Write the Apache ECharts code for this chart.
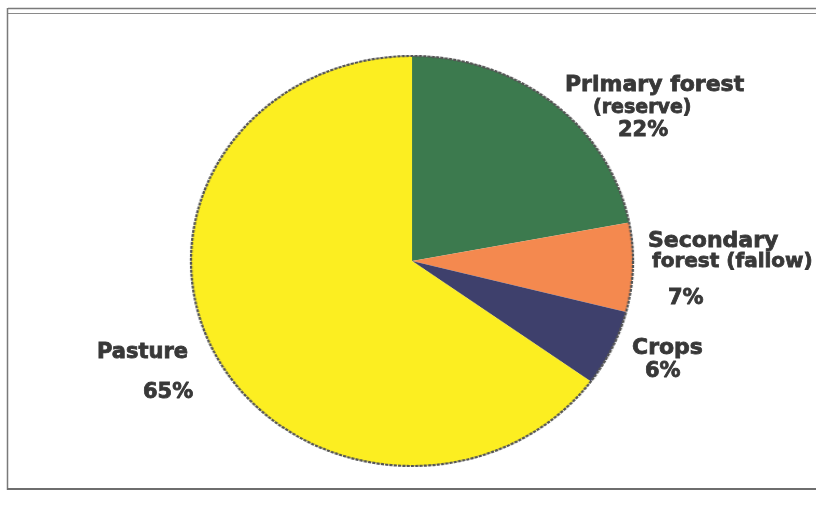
<!DOCTYPE html>
<html>
<head>
<meta charset="utf-8">
<title>Land use</title>
<script src="https://cdn.jsdelivr.net/npm/echarts@6/dist/echarts.min.js"></script>
<style>
  html, body { margin: 0; padding: 0; background: #ffffff; }
  #wrap { position: relative; width: 816px; height: 520px; overflow: hidden; }
  #pie, #labels { position: absolute; left: 0; top: 0; width: 816px; height: 520px; }
  /* the pie is drawn slightly wider than tall */
  #pie { transform: scaleX(1.078); transform-origin: 412px 261px; }
</style>
</head>
<body>
<div id="wrap">
  <div id="pie"></div>
  <div id="labels"></div>
</div>
<script>
// Land-use shares (%)
const categories = ['Primary forest (reserve)', 'Secondary forest (fallow)', 'Crops', 'Pasture'];
const shares = [22, 7, 6, 65];
const colors = ['#3c7a4e', '#f4894f', '#3e406c', '#fcee21'];
// how each category name is split over lines in its label
const nameLines = [
  ['Primary forest', '(reserve)'],
  ['Secondary', 'forest (fallow)'],
  ['Crops'],
  ['Pasture']
];

const CX = 412, CY = 261, R = 205;

const pieChart = echarts.init(document.getElementById('pie'), null, { renderer: 'canvas' });
pieChart.setOption({
  animation: false,
  backgroundColor: 'transparent',
  series: [{
    type: 'pie',
    center: [CX, CY],
    radius: [0, R],
    startAngle: 90,
    clockwise: true,
    label: { show: false },
    labelLine: { show: false },
    emphasis: { disabled: true },
    itemStyle: { borderWidth: 0 },
    data: categories.map((name, i) => ({
      name: name,
      value: shares[i],
      itemStyle: { color: colors[i] }
    }))
  }],
  graphic: [{
    type: 'circle',
    silent: true,
    shape: { cx: CX, cy: CY, r: R },
    style: { fill: 'none', stroke: '#555555', lineWidth: 2.2, lineDash: [3, 1] },
    z: 10
  }]
});

// label line positions: [left x, middle y, font size]
const labelPlaces = [
  [[565, 85, 22], [593, 108, 19], [618, 131, 21]],
  [[648, 241, 22], [652, 262, 20], [668, 299, 21]],
  [[632, 348, 22], [645, 372, 21]],
  [[97, 353, 21], [143, 393, 21]]
];

const textEls = [];
categories.forEach((name, i) => {
  const lines = nameLines[i].concat([shares[i] + '%']);
  lines.forEach((txt, j) => {
    const p = labelPlaces[i][j];
    textEls.push({
      type: 'text',
      x: p[0],
      y: p[1],
      style: {
        text: txt,
        fill: '#383838',
        stroke: '#383838',
        lineWidth: 0.8,
        align: 'left',
        verticalAlign: 'middle',
        font: 'bold ' + p[2] + 'px "DejaVu Sans", sans-serif'
      }
    });
  });
});

// outer frame (double line along the top)
const frame = [
  { type: 'line', shape: { x1: 8, y1: 8.5, x2: 830, y2: 8.5 }, style: { stroke: '#7a7a7a', lineWidth: 1.5 } },
  { type: 'line', shape: { x1: 8, y1: 13.5, x2: 830, y2: 13.5 }, style: { stroke: '#8a8a8a', lineWidth: 1.2 } },
  { type: 'line', shape: { x1: 7.5, y1: 8, x2: 7.5, y2: 490 }, style: { stroke: '#7a7a7a', lineWidth: 1.5 } },
  { type: 'line', shape: { x1: 7, y1: 489, x2: 830, y2: 489 }, style: { stroke: '#6e6e6e', lineWidth: 1.8 } }
];

const labelChart = echarts.init(document.getElementById('labels'), null, { renderer: 'canvas' });
labelChart.setOption({
  animation: false,
  backgroundColor: 'transparent',
  graphic: frame.concat(textEls)
});
</script>
</body>
</html>
